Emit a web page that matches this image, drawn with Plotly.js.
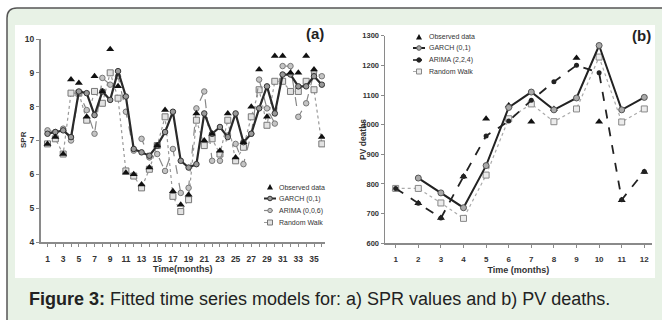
<!DOCTYPE html>
<html><head><meta charset="utf-8">
<script src="https://cdn.plot.ly/plotly-3.0.1.min.js"></script>
<style>html,body{margin:0;padding:0;background:#fff;} #chart{width:662px;height:320px;}</style>
</head><body><div id="chart"></div>
<script>
// ---------- Panel (a): SPR ----------
const monthsA = [1,2,3,4,5,6,7,8,9,10,11,12,13,14,15,16,17,18,19,20,21,22,23,24,25,26,27,28,29,30,31,32,33,34,35,36];
const obsA   = [6.9,7.1,6.6,8.8,8.7,7.7,8.9,8.45,9.7,8.6,6.05,6.0,5.7,6.2,6.85,7.9,5.5,5.1,5.4,7.8,7.0,7.2,6.7,7.8,6.5,6.95,8.0,9.1,7.7,9.5,9.5,9.0,9.0,9.5,9.1,7.1];
const garchA = [7.2,7.25,7.3,7.1,8.45,8.4,7.75,8.45,8.2,9.05,8.3,6.75,6.65,6.55,6.85,7.25,7.85,6.4,6.2,6.3,7.8,7.2,7.4,7.1,7.8,6.95,7.2,7.95,8.6,7.8,8.95,8.95,8.6,8.6,8.9,8.65];
const arimaA = [7.3,7.25,7.35,7.0,8.4,7.9,7.2,8.85,8.65,8.9,7.85,6.7,7.05,6.5,6.6,6.1,6.75,5.45,5.6,7.95,8.45,6.4,6.4,7.15,6.9,6.3,7.2,8.8,7.95,7.5,9.2,9.2,7.7,8.1,9.0,8.9];
const rwA    = [6.9,7.05,6.6,8.4,8.4,7.6,8.45,8.1,9.0,8.25,6.1,5.95,5.6,6.15,6.85,7.7,5.35,4.9,5.25,7.6,6.85,7.05,6.6,7.6,6.4,6.8,7.7,8.5,7.45,8.75,8.75,8.45,8.45,8.75,8.5,6.9];
const xTickTextA = ['1','','3','','5','','7','','9','','11','','13','','15','','17','','19','','21','','23','','25','','27','','29','','31','','33','','35',''];
const yTickValsA = [4,5,6,7,8,9,10];
const legendA = ['Observed data','GARCH (0,1)','ARIMA (0,0,6)','Random Walk'];

// ---------- Panel (b): PV deaths ----------
const monthsB = [1,2,3,4,5,6,7,8,9,10,11,12];
const obsB   = [785,735,685,825,1020,1065,1010,1053,1225,1010,745,840];
const garchB = [null,820,770,720,862,1058,1110,1050,1090,1267,1050,1092];
const arimaB = [785,735,685,825,962,1012,1082,1145,1200,1175,747,842];
const rwB    = [785,785,736,684,830,1020,1070,1010,1053,1228,1009,1053];
const yTickValsB = [600,700,800,900,1000,1100,1200,1300];
const legendB = ['Observed data','GARCH (0,1)','ARIMA (2,2,4)','Random Walk'];

const captionBold = 'Figure 3:';
const captionText = ' Fitted time series models for: a) SPR values and b) PV deaths.';

// ---------- helpers (pixel -> paper) ----------
const W = 662, H = 320;
const px = x => x / W;
const py = y => 1 - y / H;
const FONT = 'Liberation Sans, Arial, sans-serif';
const NARROW = 'Liberation Sans Narrow, Arial Narrow, Liberation Sans, Arial, sans-serif';

const traces = [
  {x: monthsA, y: rwA, xaxis:'x', yaxis:'y', mode:'lines+markers', name: legendA[3],
   line:{color:'#999', width:1.2, dash:'dot'},
   marker:{symbol:'square', size:6, color:'#e2e2e2', line:{color:'#777', width:1}}},
  {x: monthsA, y: arimaA, xaxis:'x', yaxis:'y', mode:'lines+markers', name: legendA[2],
   line:{color:'#888', width:1.2, dash:'dash'},
   marker:{symbol:'circle', size:5.5, color:'#c4c4c4', line:{color:'#777', width:1}}},
  {x: monthsA, y: garchA, xaxis:'x', yaxis:'y', mode:'lines+markers', name: legendA[1],
   line:{color:'#2a2a2a', width:2.2},
   marker:{symbol:'circle', size:5.5, color:'#9a9a9a', line:{color:'#333', width:1}}},
  {x: monthsA, y: obsA, xaxis:'x', yaxis:'y', mode:'markers', name: legendA[0],
   marker:{symbol:'triangle-up', size:7, color:'#111'}},

  {x: monthsB, y: obsB, xaxis:'x2', yaxis:'y2', mode:'markers', name: legendB[0],
   marker:{symbol:'triangle-up', size:7, color:'#111'}},
  {x: monthsB, y: rwB, xaxis:'x2', yaxis:'y2', mode:'lines+markers', name: legendB[3],
   line:{color:'#aaa', width:1.2, dash:'dot'},
   marker:{symbol:'square', size:6, color:'#ececec', line:{color:'#888', width:1}}},
  {x: monthsB, y: garchB, xaxis:'x2', yaxis:'y2', mode:'lines+markers', name: legendB[1],
   line:{color:'#222', width:2}, connectgaps:false,
   marker:{symbol:'circle', size:6, color:'#aaa', line:{color:'#555', width:1}}},
  {x: monthsB, y: arimaB, xaxis:'x2', yaxis:'y2', mode:'lines+markers', name: legendB[2],
   line:{color:'#222', width:1.8, dash:'dash'},
   marker:{symbol:'circle', size:5, color:'#222'}}
];

const shapes = [];
const annotations = [];

// card background with rounded top-left corner
shapes.push({type:'path', xref:'paper', yref:'paper', layer:'below',
  path:`M ${px(7)} ${py(340)} L ${px(7)} ${py(18)} Q ${px(7)} ${py(8)} ${px(17)} ${py(8)} L ${px(680)} ${py(8)} L ${px(680)} ${py(340)} Z`,
  fillcolor:'#e8f2e6', line:{color:'#555', width:1.5}});
// white chart panel
shapes.push({type:'rect', xref:'paper', yref:'paper', layer:'below',
  x0:px(15), x1:px(655), y0:py(278), y1:py(25), fillcolor:'#ffffff', line:{width:0}});

function legendBlock(labels, lx0, lx1, tx, rows, st) {
  const cx = (lx0 + lx1) / 2;
  let r = rows[0];
  shapes.push({type:'path', xref:'paper', yref:'paper',
    path:`M ${px(cx-3)} ${py(r+2.5)} L ${px(cx+3)} ${py(r+2.5)} L ${px(cx)} ${py(r-3)} Z`,
    fillcolor:'#111', line:{width:0}});
  r = rows[1];
  shapes.push({type:'line', xref:'paper', yref:'paper', x0:px(lx0), x1:px(lx1), y0:py(r), y1:py(r),
    line:{color:st.g.line, width:st.g.w}});
  shapes.push({type:'circle', xref:'paper', yref:'paper', x0:px(cx-2.3), x1:px(cx+2.3), y0:py(r+2.3), y1:py(r-2.3),
    fillcolor:st.g.fill, line:{color:st.g.mline, width:1}});
  r = rows[2];
  shapes.push({type:'line', xref:'paper', yref:'paper', x0:px(lx0), x1:px(lx1), y0:py(r), y1:py(r),
    line:{color:st.a.line, width:st.a.w, dash:'dash'}});
  shapes.push({type:'circle', xref:'paper', yref:'paper', x0:px(cx-2.2), x1:px(cx+2.2), y0:py(r+2.2), y1:py(r-2.2),
    fillcolor:st.a.fill, line:{color:st.a.mline, width:1}});
  r = rows[3];
  shapes.push({type:'line', xref:'paper', yref:'paper', x0:px(lx0), x1:px(lx1), y0:py(r), y1:py(r),
    line:{color:st.r.line, width:1.2, dash:'dot'}});
  shapes.push({type:'rect', xref:'paper', yref:'paper', x0:px(cx-2.5), x1:px(cx+2.5), y0:py(r+2.5), y1:py(r-2.5),
    fillcolor:st.r.fill, line:{color:st.r.mline, width:1}});
  labels.forEach((t, i) => annotations.push({xref:'paper', yref:'paper', x:px(tx), y:py(rows[i]),
    xanchor:'left', yanchor:'middle', text:t, showarrow:false,
    font:{family:FONT, size:7, color:'#333'}}));
}

legendBlock(legendA, 264, 276, 277, [187, 198.5, 210.5, 222.5], {
  g:{line:'#2a2a2a', w:2, fill:'#9a9a9a', mline:'#333'},
  a:{line:'#888', w:1.2, fill:'#c4c4c4', mline:'#777'},
  r:{line:'#999', fill:'#e2e2e2', mline:'#777'}});
legendBlock(legendB, 413, 425, 427, [37, 48, 60, 71.5], {
  g:{line:'#222', w:2, fill:'#aaa', mline:'#555'},
  a:{line:'#222', w:1.6, fill:'#222', mline:'#222'},
  r:{line:'#aaa', fill:'#ececec', mline:'#888'}});

annotations.push({xref:'paper', yref:'paper', x:px(315), y:py(34), xanchor:'center', yanchor:'middle',
  text:'<b>(a)</b>', showarrow:false, font:{family:FONT, size:15, color:'#222'}});
annotations.push({xref:'paper', yref:'paper', x:px(641), y:py(35), xanchor:'center', yanchor:'middle',
  text:'<b>(b)</b>', showarrow:false, font:{family:FONT, size:15, color:'#222'}});
annotations.push({xref:'paper', yref:'paper', x:px(23), y:py(140), xanchor:'center', yanchor:'middle',
  text:'<b>SPR</b>', textangle:-90, showarrow:false, font:{family:FONT, size:8, color:'#333'}});
annotations.push({xref:'paper', yref:'paper', x:px(363), y:py(140), xanchor:'center', yanchor:'middle',
  text:'<b>PV deaths</b>', textangle:-90, showarrow:false, font:{family:FONT, size:8.5, color:'#333'}});
annotations.push({xref:'paper', yref:'paper', x:px(27), y:py(299), xanchor:'left', yanchor:'middle',
  text:'<b>' + captionBold + '</b>' + captionText, showarrow:false,
  font:{family:FONT, size:18, color:'#222'}});

const axisCommon = {
  showline:true, linecolor:'#8a8a8a', linewidth:1.5, ticks:'outside', ticklen:3, tickwidth:1,
  tickcolor:'#8a8a8a', showgrid:false, zeroline:false, fixedrange:true
};
const tickFontA = {family:FONT, size:8.5, color:'#333', weight:'bold'};
const tickFontBx = {family:FONT, size:8, color:'#333', weight:'bold'};
const tickFontBy = {family:NARROW, size:7.5, color:'#333', weight:'bold'};

const layout = {
  width:W, height:H, margin:{l:0, r:0, t:0, b:0}, showlegend:false,
  paper_bgcolor:'#ffffff', plot_bgcolor:'rgba(0,0,0,0)',
  xaxis: Object.assign({}, axisCommon, {domain:[px(40.5), px(325)], range:[0.107, 36.404],
    tickmode:'array', tickvals:monthsA, ticktext:xTickTextA, ticklabelstandoff:5, tickfont:tickFontA,
    title:{text:'<b>Time(months)</b>', font:{family:FONT, size:9, color:'#333'}, standoff:3}, anchor:'y'}),
  yaxis: Object.assign({}, axisCommon, {domain:[1-242/H, 1-39/H], range:[4, 10],
    tickmode:'array', tickvals:yTickValsA, tickfont:tickFontA, anchor:'x'}),
  xaxis2: Object.assign({}, axisCommon, {domain:[px(385), px(651.7)], range:[0.5265, 12.327],
    tickmode:'array', tickvals:monthsB, ticklabelstandoff:5, tickfont:tickFontBx,
    title:{text:'<b>Time (months)</b>', font:{family:FONT, size:9, color:'#333'}, standoff:3}, anchor:'y2'}),
  yaxis2: Object.assign({}, axisCommon, {domain:[1-243.3/H, 1-35.7/H], range:[600, 1300],
    tickmode:'array', tickvals:yTickValsB, tickfont:tickFontBy, anchor:'x2'}),
  shapes: shapes,
  annotations: annotations
};

Plotly.newPlot('chart', traces, layout, {staticPlot:true, displayModeBar:false});
</script>
</body></html>
